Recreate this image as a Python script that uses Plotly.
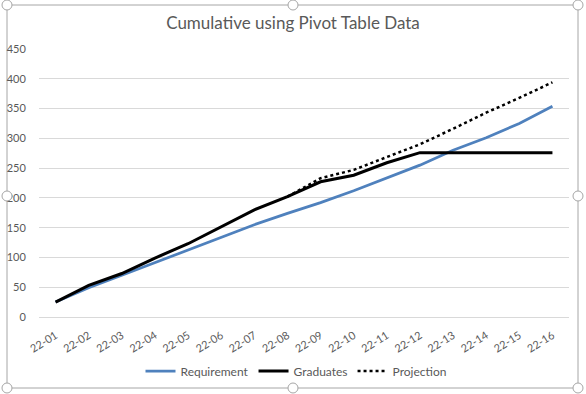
import plotly.graph_objects as go

categories = ["22-01","22-02","22-03","22-04","22-05","22-06","22-07","22-08",
              "22-09","22-10","22-11","22-12","22-13","22-14","22-15","22-16"]
requirement = [25, 49, 70, 91, 112, 134, 155, 174, 192, 212, 234, 255, 280, 301, 325, 354]
graduates = [25, 53, 73, 99, 123, 152, 180, 202, 227, 238, 259, 276, 276, 276, 276, 276]
projection = [None, None, None, None, None, None, None, 202, 233, 247, 268, 290, 316, 343, 368, 394]
y_ticks = [0, 50, 100, 150, 200, 250, 300, 350, 400, 450]

FONT = "Lato, 'Open Sans', sans-serif"
GREY = "#595959"

fig = go.Figure()
fig.add_trace(go.Scatter(x=categories, y=requirement, name="Requirement", mode="lines",
                         line=dict(color="#4F81BD", width=2.75)))
fig.add_trace(go.Scatter(x=categories, y=graduates, name="Graduates", mode="lines",
                         line=dict(color="#000000", width=3)))
fig.add_trace(go.Scatter(x=categories, y=projection, name="Projection", mode="lines",
                         line=dict(color="#000000", width=2.5, dash="dot"),
                         connectgaps=False))

L, R, T, B = 39, 17, 49, 77
W, H = 586, 394
pw, ph = W - L - R, H - T - B

def px(xp):
    return (xp - L) / pw

def py(yp):
    return (H - B - yp) / ph

shapes = [dict(type="rect", xref="paper", yref="paper",
               x0=px(7), x1=px(578), y0=py(388), y1=py(5),
               line=dict(color="#A6A6A6", width=1), layer="below")]
for hx, hy in [(7, 5), (293, 5), (578, 5), (7, 196), (578, 196), (7, 388), (293, 388), (578, 388)]:
    r = 5
    shapes.append(dict(type="circle", xref="paper", yref="paper",
                       x0=px(hx - r), x1=px(hx + r), y0=py(hy + r), y1=py(hy - r),
                       line=dict(color="#A6A6A6", width=1), fillcolor="white"))

fig.update_layout(
    width=W, height=H,
    margin=dict(l=L, r=R, t=T, b=B, autoexpand=False),
    paper_bgcolor="white", plot_bgcolor="white",
    title=dict(text="Cumulative using Pivot Table Data", x=293 / W,
               xanchor="center", y=1 - 23 / H, yanchor="middle",
               font=dict(family=FONT, size=17, color=GREY)),
    font=dict(family=FONT, size=11, color=GREY),
    xaxis=dict(type="category", range=[-0.5, 15.5], tickangle=-32, showgrid=False,
               showline=False, automargin=False,
               ticks="outside", ticklen=7, tickcolor="rgba(0,0,0,0)",
               tickfont=dict(size=11, color=GREY)),
    yaxis=dict(range=[0, 450], tickvals=y_ticks, showgrid=True, gridcolor="#D9D9D9",
               gridwidth=1, zeroline=True, zerolinecolor="#D9D9D9", zerolinewidth=1,
               showline=False, automargin=False,
               ticks="outside", ticklen=10, tickcolor="rgba(0,0,0,0)",
               tickfont=dict(size=11, color=GREY)),
    legend=dict(orientation="h", x=px(296), xanchor="center", y=py(371), yanchor="middle",
                font=dict(size=12, color=GREY), bgcolor="rgba(0,0,0,0)"),
    showlegend=True,
    shapes=shapes,
)

fig.write_html("out.html", config={"displayModeBar": False},
               post_script="document.body.style.margin='0';document.body.style.padding='0';")
